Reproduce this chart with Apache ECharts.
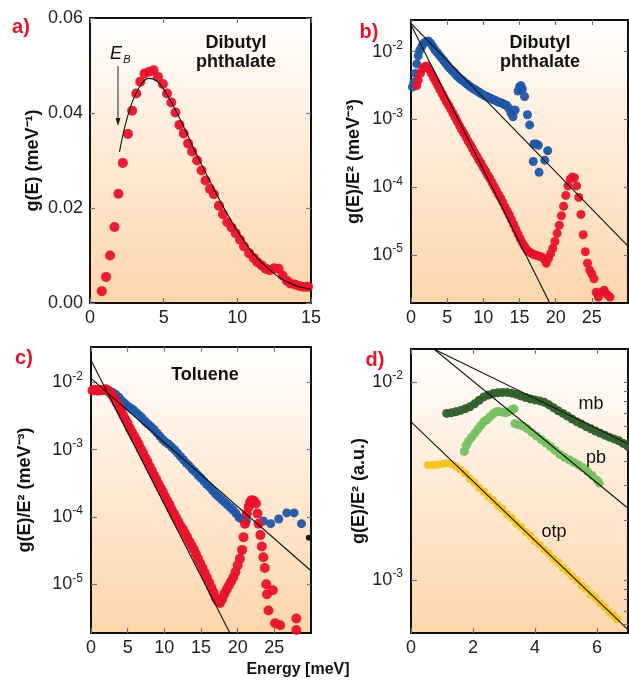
<!DOCTYPE html>
<html>
<head>
<meta charset="utf-8">
<script src="https://cdn.jsdelivr.net/npm/echarts@6/dist/echarts.min.js"></script>
<style>
html,body{margin:0;padding:0;background:#fff;}
#chart{width:629px;height:681px;}
</style>
</head>
<body>
<div id="chart"></div>
<script>
// ---------- Panel a: g(E), Dibutyl phthalate ----------
const aE = [0.8,1.09,1.36,1.66,1.93,2.23,2.57,2.86,3.14,3.41,3.70,4.02,4.32,4.61,4.95,5.23,5.52,5.80,6.07,6.36,6.66,6.93,7.27,7.57,7.84,8.14,8.41,8.75,9.02,9.32,9.61,9.89,10.18,10.45,10.8,11.1,11.36,11.66,11.93,12.2,12.5,12.8,13.07,13.36,13.6,13.9,14.2,14.5,14.8];
const aG = [0.0025,0.0055,0.0100,0.0160,0.0230,0.0295,0.0356,0.0405,0.0441,0.0466,0.0483,0.0487,0.0490,0.0476,0.0461,0.0441,0.0422,0.0401,0.0375,0.0357,0.0336,0.0319,0.0300,0.0279,0.0258,0.0240,0.0229,0.0205,0.0187,0.0170,0.0159,0.0147,0.0133,0.0119,0.0105,0.0095,0.0086,0.0079,0.0072,0.0069,0.0073,0.0072,0.0058,0.0047,0.0041,0.0039,0.0036,0.0034,0.0034];
const aFitE = [2.0,2.25,2.5,2.75,3.0,3.5,4.0,4.5,5.0,5.5,6.0,6.5,7.0,7.5,8.0,8.5,9.0,9.5,10.0,10.5,11.0,11.5,12.0,12.5,13.0,13.5,14.0,14.5,15.0];
const aFitG = [0.0318,0.0356,0.0387,0.0412,0.0433,0.0461,0.0473,0.0468,0.0450,0.0424,0.0394,0.0362,0.0328,0.0296,0.0265,0.0235,0.0205,0.0178,0.0152,0.0129,0.0107,0.0090,0.0075,0.0062,0.0051,0.0043,0.0036,0.0032,0.0029];

// ---------- Panel b: g(E)/E^2, Dibutyl phthalate (values stored as log10) ----------
const bBlueE = [0.2,0.4,0.6,0.8,1.0,1.2,1.5,1.8,2.1,2.4,2.7,3.0,3.3,3.6,3.9,4.2,4.5,4.8,5.1,5.4,5.7,6.0,6.3,6.6,6.9,7.2,7.5,7.8,8.1,8.4,8.7,9.0,9.3,9.6,9.9,10.2,10.5,10.8,11.1,11.4,11.7,12.0,12.3,12.6,12.9,13.2,13.5,13.8,14.1,14.4,14.8,15.0,15.2,15.4,15.7,16.1,16.4,17.0,17.3,17.6,16.9,17.7,18.5,18.9];
const bBlueLog = [-2.52,-2.45,-2.32,-2.18,-2.06,-1.98,-1.92,-1.87,-1.85,-1.84,-1.87,-1.92,-1.97,-2.01,-2.05,-2.09,-2.13,-2.17,-2.21,-2.25,-2.28,-2.31,-2.35,-2.38,-2.41,-2.43,-2.46,-2.48,-2.51,-2.53,-2.55,-2.57,-2.59,-2.61,-2.63,-2.65,-2.66,-2.68,-2.69,-2.71,-2.72,-2.74,-2.75,-2.76,-2.78,-2.79,-2.83,-2.90,-2.96,-2.86,-2.58,-2.52,-2.50,-2.55,-2.66,-2.93,-3.08,-3.36,-3.36,-3.38,-3.62,-3.78,-3.60,-3.46];
const bRedE = [0.8,1.0,1.3,1.6,1.9,2.2,2.5,2.8,3.1,3.4,3.7,4.0,4.3,4.6,4.9,5.2,5.5,5.8,6.1,6.4,6.7,7.0,7.3,7.6,7.9,8.2,8.5,8.8,9.1,9.4,9.7,10.0,10.3,10.6,10.9,11.2,11.5,11.8,12.1,12.4,12.7,13.0,13.3,13.6,13.9,14.2,14.5,14.8,15.1,15.4,15.7,16.0,16.3,16.6,16.9,17.2,17.5,17.8,18.1,18.4,18.7,19.0,19.3,19.6,19.9,20.2,20.5,20.8,21.1,21.4,21.7,22.0,22.3,22.6,22.9,23.2,23.5,23.8,24.1,24.4,24.7,25.0,25.3,25.6,25.9,26.3,26.7,27.1,27.5];
const bRedLog = [-2.50,-2.42,-2.32,-2.25,-2.22,-2.21,-2.26,-2.32,-2.38,-2.44,-2.50,-2.56,-2.62,-2.68,-2.74,-2.79,-2.85,-2.91,-2.97,-3.03,-3.09,-3.15,-3.20,-3.26,-3.32,-3.37,-3.43,-3.49,-3.54,-3.60,-3.65,-3.71,-3.76,-3.82,-3.87,-3.93,-3.99,-4.05,-4.11,-4.16,-4.22,-4.29,-4.35,-4.41,-4.48,-4.55,-4.62,-4.69,-4.76,-4.82,-4.87,-4.92,-4.95,-4.97,-4.99,-5.00,-5.01,-5.02,-5.03,-5.06,-5.12,-5.05,-4.98,-4.90,-4.80,-4.68,-4.56,-4.42,-4.28,-4.12,-3.98,-3.88,-3.85,-3.86,-3.98,-4.15,-4.40,-4.70,-4.95,-5.12,-5.22,-5.28,-5.35,-5.55,-5.62,-5.55,-5.52,-5.58,-5.62];
const bBlueFitE = [0, 30];
const bBlueFitLog = [-1.58, -4.87];
const bRedFitE = [0, 19.2];
const bRedFitLog = [-1.60, -5.71];

// ---------- Panel c: g(E)/E^2, Toluene (log10 values) ----------
const cBlueE = [2.0,2.3,2.6,3.0,3.4,3.8,4.2,4.6,5.0,5.4,5.8,6.2,6.6,7.0,7.4,7.8,8.2,8.6,9.0,9.4,9.8,10.2,10.6,11.0,11.4,11.8,12.2,12.6,13.0,13.4,13.8,14.2,14.6,15.0,15.4,15.8,16.2,16.6,17.0,17.4,17.8,18.2,18.6,19.0,19.4,19.8,20.2,20.6,21.2,23.5,24.5,25.6,26.7,27.7,28.7];
const cBlueLog = [-2.12,-2.12,-2.13,-2.15,-2.18,-2.22,-2.27,-2.31,-2.35,-2.38,-2.41,-2.45,-2.49,-2.53,-2.58,-2.62,-2.66,-2.70,-2.75,-2.80,-2.85,-2.89,-2.92,-2.96,-3.00,-3.05,-3.10,-3.15,-3.20,-3.24,-3.29,-3.33,-3.38,-3.42,-3.47,-3.52,-3.56,-3.61,-3.66,-3.70,-3.74,-3.78,-3.82,-3.86,-3.90,-3.95,-4.01,-4.03,-4.06,-4.06,-4.10,-4.03,-3.94,-3.94,-4.10];
const cRedE = [0.2,0.5,0.8,1.1,1.4,1.7,2.0,2.3,2.6,2.9,3.2,3.5,3.8,4.1,4.4,4.7,5.0,5.3,5.6,5.9,6.2,6.5,6.8,7.1,7.4,7.7,8.0,8.3,8.6,8.9,9.2,9.5,9.8,10.1,10.4,10.7,11.0,11.3,11.6,11.9,12.2,12.5,12.8,13.1,13.4,13.7,14.0,14.3,14.6,14.9,15.2,15.5,15.8,16.1,16.4,16.7,17.0,17.3,17.6,17.9,18.2,18.5,18.8,19.1,19.4,19.7,20.0,20.3,20.6,20.8,21.0,21.25,21.5,21.7,21.9,22.2,22.5,22.7,22.85,23.1,23.3,23.5,23.7,23.9,24.0,24.2,24.8,25.1,25.8,28.0,28.0];
const cRedLog = [-2.12,-2.11,-2.12,-2.12,-2.11,-2.11,-2.10,-2.12,-2.15,-2.19,-2.24,-2.30,-2.36,-2.42,-2.49,-2.55,-2.61,-2.68,-2.74,-2.80,-2.86,-2.92,-2.99,-3.05,-3.12,-3.18,-3.25,-3.31,-3.38,-3.44,-3.51,-3.57,-3.63,-3.70,-3.76,-3.82,-3.89,-3.95,-4.01,-4.07,-4.13,-4.18,-4.24,-4.30,-4.36,-4.42,-4.48,-4.55,-4.62,-4.69,-4.76,-4.83,-4.90,-4.97,-5.05,-5.12,-5.20,-5.25,-5.28,-5.22,-5.14,-5.08,-5.02,-4.96,-4.90,-4.82,-4.72,-4.62,-4.49,-4.30,-4.10,-3.95,-3.85,-3.78,-3.75,-3.76,-3.80,-3.95,-4.10,-4.27,-4.44,-4.60,-4.76,-5.00,-5.15,-5.39,-5.09,-5.58,-5.61,-5.51,-5.68];
const cBlackE = [29.7];
const cBlackLog = [-4.31];
const cBlueFitE = [0, 30];
const cBlueFitLog = [-1.94, -4.80];
const cRedFitE = [0, 18.96];
const cRedFitLog = [-1.67, -5.73];

// ---------- Panel d: g(E)/E^2 (a.u.), mb / pb / otp (log10 values) ----------
const mbE = [1.15,1.3,1.45,1.6,1.75,1.9,2.05,2.2,2.35,2.5,2.65,2.8,2.95,3.1,3.25,3.4,3.55,3.7,3.85,4.0,4.15,4.3,4.45,4.6,4.75,4.9,5.05,5.2,5.35,5.5,5.65,5.8,5.95,6.1,6.25,6.4,6.55,6.7,6.85,7.0];
const mbLog = [-2.158,-2.155,-2.150,-2.143,-2.135,-2.125,-2.110,-2.092,-2.075,-2.065,-2.058,-2.054,-2.052,-2.052,-2.056,-2.062,-2.070,-2.078,-2.085,-2.090,-2.095,-2.102,-2.115,-2.130,-2.145,-2.158,-2.172,-2.187,-2.200,-2.212,-2.225,-2.236,-2.247,-2.258,-2.268,-2.278,-2.287,-2.296,-2.310,-2.325];
const pbE = [1.72,1.78,1.85,1.95,2.05,2.15,2.25,2.35,2.45,2.55,2.65,2.75,2.85,2.95,3.05,3.15,3.25,3.32,3.35,3.45,3.6,3.75,3.9,4.05,4.2,4.35,4.5,4.65,4.8,4.95,5.1,5.25,5.4,5.55,5.7,5.85,6.0,6.07];
const pbLog = [-2.35,-2.32,-2.30,-2.28,-2.26,-2.24,-2.22,-2.20,-2.19,-2.175,-2.16,-2.15,-2.148,-2.152,-2.155,-2.150,-2.140,-2.135,-2.21,-2.215,-2.222,-2.235,-2.255,-2.272,-2.290,-2.308,-2.326,-2.345,-2.365,-2.380,-2.392,-2.405,-2.418,-2.433,-2.452,-2.472,-2.495,-2.51];
const otpE = [0.55,0.7,0.85,1.0,1.15,1.3,1.45,1.6,1.75,1.9,2.05,2.2,2.35,2.5,2.65,2.8,2.95,3.1,3.25,3.4,3.55,3.7,3.85,4.0,4.15,4.3,4.45,4.6,4.75,4.9,5.05,5.2,5.35,5.5,5.65,5.8,5.95,6.1,6.25,6.4,6.55,6.65];
const otpLog = [-2.418,-2.418,-2.417,-2.414,-2.410,-2.414,-2.425,-2.443,-2.462,-2.488,-2.507,-2.533,-2.552,-2.578,-2.597,-2.622,-2.641,-2.667,-2.686,-2.712,-2.731,-2.757,-2.776,-2.802,-2.821,-2.847,-2.866,-2.892,-2.911,-2.937,-2.956,-2.982,-3.001,-3.027,-3.045,-3.072,-3.090,-3.117,-3.135,-3.162,-3.180,-3.197];
const mbFitE = [0.7, 7.0];
const mbFitLog = [-1.831, -2.312];
const pbFitE = [0.7, 7.0];
const pbFitLog = [-1.828, -2.637];
const otpFitE = [0.0, 7.0];
const otpFitLog = [-2.201, -3.250];

// ---------- Tick labels ----------
const aXTicks = [0, 5, 10, 15];
const aYTicks = ['0.00', '0.02', '0.04', '0.06'];
const bcXTicks = [0, 5, 10, 15, 20, 25];
const dXTicks = [0, 2, 4, 6];
const bcDecades = [1e-5, 1e-4, 1e-3, 1e-2];
const dDecades = [1e-3, 1e-2];

// ---------- helpers ----------
const zip = (xs, ys) => xs.map((x, i) => [x, ys[i]]);
const zipLog = (xs, ls) => xs.map((x, i) => [x, Math.pow(10, ls[i])]);

const FONT = '"Liberation Sans", Arial, Helvetica, sans-serif';
const RED = '#e8132b', BLUE = '#1d57a5', DGREEN = '#2f5e2c', LGREEN = '#76c062', YELLOW = '#f6c41b';

const bg = new echarts.graphic.LinearGradient(0, 0, 0, 1, [
  { offset: 0, color: '#ffffff' },
  { offset: 0.3, color: '#fff1e4' },
  { offset: 1, color: '#fdd5aa' }
]);

const grids = [
  { left: 90, top: 18, width: 221, height: 285 },
  { left: 411, top: 20, width: 217, height: 283 },
  { left: 91, top: 347, width: 220, height: 286 },
  { left: 411, top: 349, width: 217, height: 284 }
].map(g => Object.assign(g, { show: true, backgroundColor: bg, borderColor: '#111', borderWidth: 2, z: 0 }));

const tickStyle = { show: true, inside: true, length: 5, lineStyle: { color: '#777', width: 1.2 } };
const labelStyle = { color: '#222', fontSize: 18, fontFamily: FONT };
const nameStyle = { fontSize: 18, fontWeight: 'bold', color: '#111', fontFamily: FONT };

function supFmt(v) {
  const e = Math.log10(v);
  const r = Math.round(e);
  if (Math.abs(e - r) > 1e-6) return '';
  return '{m|10}{s|' + r + '}';
}
const supRich = {
  m: { fontSize: 18, fontFamily: FONT, color: '#222', lineHeight: 24 },
  s: { fontSize: 12, fontFamily: FONT, color: '#222', verticalAlign: 'top', lineHeight: 14 }
};

function xPair(gi, min, max, interval, ticks) {
  const base = {
    type: 'value', gridIndex: gi, min, max, interval,
    splitLine: { show: false }, axisLine: { show: false, onZero: false }
  };
  return [
    Object.assign({}, base, {
      position: 'bottom',
      axisTick: Object.assign({}, tickStyle, { customValues: ticks }),
      axisLabel: Object.assign({}, labelStyle, { margin: 6, customValues: ticks })
    }),
    Object.assign({}, base, {
      position: 'top',
      axisTick: Object.assign({}, tickStyle, { customValues: ticks }),
      axisLabel: { show: false }
    })
  ];
}

function yLog(gi, min, max, decades, rightTicks, name, nameGap) {
  const base = {
    type: 'log', logBase: 10, gridIndex: gi, min, max,
    splitLine: { show: false }, axisLine: { show: false, onZero: false }, minorTick: { show: false }
  };
  return [
    Object.assign({}, base, {
      position: 'left',
      name, nameLocation: 'middle', nameRotate: 90, nameGap,
      nameTextStyle: nameStyle,
      axisTick: Object.assign({}, tickStyle, { length: 6, customValues: decades }),
      axisLabel: { show: true, margin: 8, formatter: supFmt, rich: supRich, customValues: decades }
    }),
    Object.assign({}, base, {
      position: 'right',
      axisTick: Object.assign({}, tickStyle, { length: 4, customValues: rightTicks }),
      axisLabel: { show: false }
    })
  ];
}

const bcRight = bcDecades;
const dRight = [6e-4, 7e-4, 8e-4, 9e-4, 1e-3, 2e-3, 3e-3, 4e-3, 5e-3, 6e-3, 7e-3, 8e-3, 9e-3, 1e-2];

const xAxes = [].concat(
  xPair(0, 0, 15, 5, aXTicks),
  xPair(1, 0, 30, 5, bcXTicks),
  xPair(2, 0, 30, 5, bcXTicks),
  xPair(3, 0, 7, 1, dXTicks)
);

const yAxes = [].concat(
  [
    {
      type: 'value', gridIndex: 0, min: 0, max: 0.06, interval: 0.02, position: 'left',
      splitLine: { show: false }, axisLine: { show: false, onZero: false },
      name: 'g(E) (meV\u207B\u00B9)', nameLocation: 'middle', nameRotate: 90, nameGap: 48,
      nameTextStyle: nameStyle,
      axisTick: Object.assign({}, tickStyle),
      axisLabel: Object.assign({}, labelStyle, { margin: 7, formatter: v => aYTicks[Math.round(v / 0.02)] || '' })
    },
    {
      type: 'value', gridIndex: 0, min: 0, max: 0.06, interval: 0.02, position: 'right',
      splitLine: { show: false }, axisLine: { show: false, onZero: false },
      axisTick: Object.assign({}, tickStyle), axisLabel: { show: false }
    }
  ],
  yLog(1, 1.96e-6, 0.0294, bcDecades, bcRight, 'g(E)/E\u00B2 (meV\u207B\u00B3)', 48),
  yLog(2, 1.88e-6, 0.0337, bcDecades, bcRight, 'g(E)/E\u00B2 (meV\u207B\u00B3)', 57),
  yLog(3, 5.41e-4, 0.01469, dDecades, dRight, 'g(E)/E\u00B2 (a.u.)', 39)
);

function scatter(xi, data, color, size, z) {
  return {
    type: 'scatter', xAxisIndex: xi, yAxisIndex: xi, data,
    symbol: 'circle', symbolSize: size, itemStyle: { color, opacity: 0.95 }, z: z || 2,
    silent: true, clip: true
  };
}
function fit(xi, data, smooth) {
  return {
    type: 'line', xAxisIndex: xi, yAxisIndex: xi, data, smooth: !!smooth,
    symbol: 'none', lineStyle: { color: '#111', width: 1.1 }, z: 5, clip: true, silent: true
  };
}

const series = [
  // a
  scatter(0, zip(aE, aG), RED, 10),
  fit(0, zip(aFitE, aFitG), true),
  // b
  scatter(2, zipLog(bBlueE, bBlueLog), BLUE, 9),
  scatter(2, zipLog(bRedE, bRedLog), RED, 9),
  fit(2, zipLog(bBlueFitE, bBlueFitLog)),
  fit(2, zipLog(bRedFitE, bRedFitLog)),
  // c
  scatter(4, zipLog(cBlueE, cBlueLog), BLUE, 9),
  scatter(4, zipLog(cRedE, cRedLog), RED, 10),
  scatter(4, zipLog(cBlackE, cBlackLog), '#111', 6, 6),
  fit(4, zipLog(cBlueFitE, cBlueFitLog)),
  fit(4, zipLog(cRedFitE, cRedFitLog)),
  // d
  scatter(6, zipLog(mbE, mbLog), DGREEN, 9),
  scatter(6, zipLog(pbE, pbLog), LGREEN, 9),
  scatter(6, zipLog(otpE, otpLog), YELLOW, 8),
  fit(6, zipLog(mbFitE, mbFitLog)),
  fit(6, zipLog(pbFitE, pbFitLog)),
  fit(6, zipLog(otpFitE, otpFitLog))
];

function txt(text, x, y, font, fill, align) {
  return {
    type: 'text', z: 100, silent: true,
    style: { text, x, y, font, fill: fill || '#111', textAlign: align || 'center', textVerticalAlign: 'middle' }
  };
}
const B18 = 'bold 18px ' + FONT;
const graphics = [
  txt('a)', 21, 27, 'bold 20px ' + FONT, RED),
  txt('b)', 369, 32, 'bold 20px ' + FONT, RED),
  txt('c)', 24, 358, 'bold 20px ' + FONT, RED),
  txt('d)', 375, 360, 'bold 20px ' + FONT, RED),
  txt('Dibutyl', 236, 43, B18),
  txt('phthalate', 236, 62, B18),
  txt('Dibutyl', 540, 43, B18),
  txt('phthalate', 540, 62, B18),
  txt('Toluene', 205, 375, B18),
  txt('E', 116, 54, 'italic 18px ' + FONT),
  txt('B', 127, 60, 'italic 11px ' + FONT),
  txt('mb', 591, 404, '18px ' + FONT),
  txt('pb', 596, 458, '18px ' + FONT),
  txt('otp', 554, 532, '18px ' + FONT),
  txt('Energy [meV]', 298, 670, 'bold 16px ' + FONT),
  { type: 'line', z: 100, silent: true, shape: { x1: 118, y1: 66, x2: 118, y2: 120 }, style: { stroke: '#222', lineWidth: 1 } },
  { type: 'polygon', z: 100, silent: true, shape: { points: [[115.5, 118], [120.5, 118], [118, 126]] }, style: { fill: '#222' } }
];

const chart = echarts.init(document.getElementById('chart'), null, { renderer: 'canvas' });
chart.setOption({
  animation: false,
  backgroundColor: '#ffffff',
  grid: grids,
  xAxis: xAxes,
  yAxis: yAxes,
  series,
  graphic: graphics
});
</script>
</body>
</html>
